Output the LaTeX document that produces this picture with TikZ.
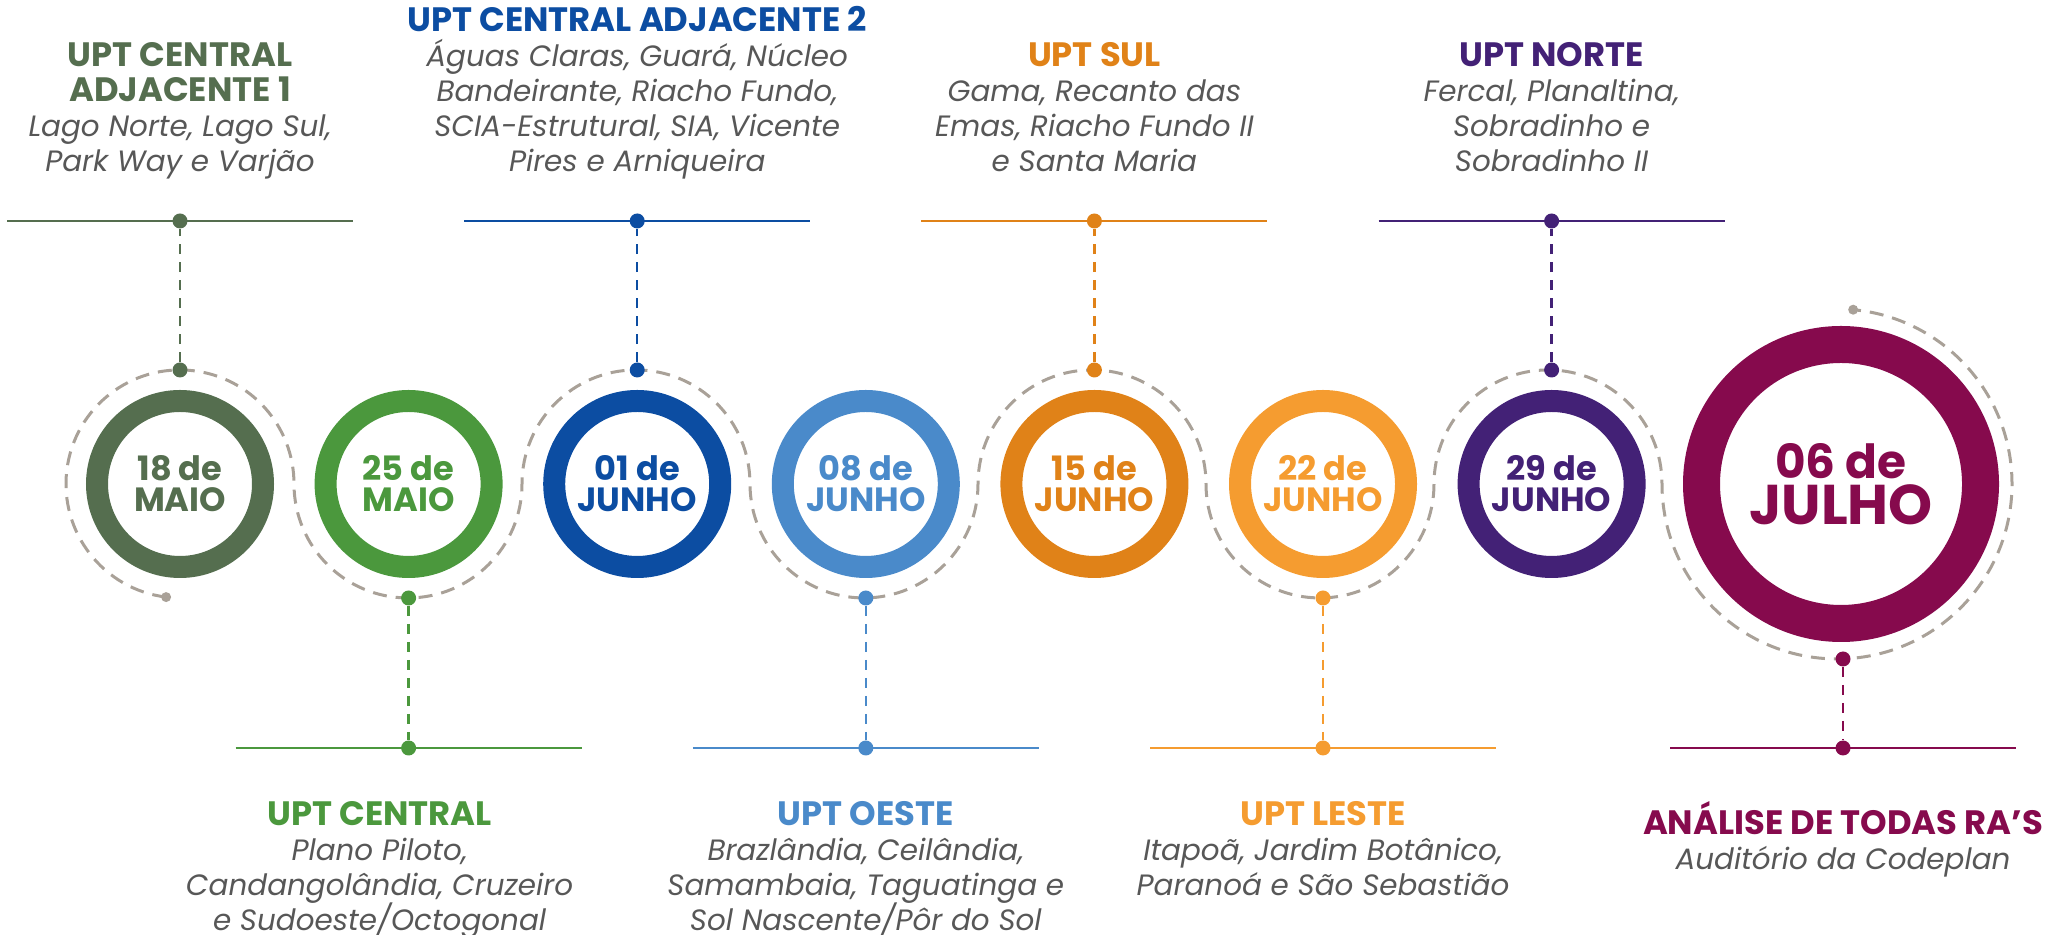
\documentclass[tikz,border=0pt]{standalone}
\usepackage{fontspec}
\setmainfont{Poppins}
\usepackage{xcolor}
\usetikzlibrary{positioning}
\definecolor{cA}{HTML}{556E4F}
\definecolor{cB}{HTML}{4B983D}
\definecolor{cC}{HTML}{0C4DA2}
\definecolor{cD}{HTML}{4A8ACA}
\definecolor{cE}{HTML}{E08218}
\definecolor{cF}{HTML}{F59C30}
\definecolor{cG}{HTML}{432176}
\definecolor{cH}{HTML}{860A4D}
\definecolor{trail}{HTML}{A9A198}
\definecolor{txtgray}{HTML}{575757}
\newcommand\upttitle{\fontsize{16.9}{17.5}\selectfont\bfseries\upshape}
\newcommand\uptlist{\fontsize{14.7}{17.5}\selectfont\itshape\lineskiplimit=-20pt}
\newcommand\upt[2]{{\upttitle\color{#1}#2\strut}}
\tikzset{
  ring/.style={circle, line width=11pt, minimum size=83pt, inner sep=0pt, align=center,
    font=\bfseries\fontsize{16.8}{15.5}\selectfont},
  bigring/.style={ring, line width=18.5pt, minimum size=139.5pt},
  dot/.style={circle, inner sep=0pt, minimum size=7.5pt},
  enddot/.style={circle, fill=trail, inner sep=0pt, minimum size=5pt},
  trailline/.style={draw=trail, line width=1.5pt, dash pattern=on 7pt off 4.5pt},
  bar/.style={line width=1.25pt},
  drop/.style={line width=1.25pt, dash pattern=on 5pt off 4pt},
  toplbl/.style={align=center, inner sep=0pt, font=\uptlist, text=txtgray},
  botlbl/.style={align=center, inner sep=0pt, font=\uptlist, text=txtgray},
}
\begin{document}
\begin{tikzpicture}[x=0.5pt, y=0.5pt]
  \useasboundingbox (0,0) rectangle (2064,935);
  % dashed trail weaving round the dates
  \node[enddot] (t0) at (166.1,337.9) {};
  \draw[trailline] (t0.center) arc[start angle=263, end angle=0, radius=114]
    arc[start angle=180, end angle=360, radius=114]
    arc[start angle=180, end angle=0, radius=114]
    arc[start angle=180, end angle=360, radius=114]
    arc[start angle=180, end angle=0, radius=114]
    arc[start angle=180, end angle=360, radius=114]
    arc[start angle=180, end angle=0, radius=114]
    arc[start angle=180, end angle=444.7, radius=175] coordinate (t1);
  \node[enddot] at (t1) {};
  % dates
  \foreach \i/\x/\col/\day/\mon in {1/180/cA/18/MAIO, 2/408.6/cB/25/MAIO, 3/637.2/cC/01/JUNHO,
      4/865.8/cD/08/JUNHO, 5/1094.4/cE/15/JUNHO, 6/1323/cF/22/JUNHO, 7/1551.6/cG/29/JUNHO}
    \node[ring, draw=\col, text=\col] (d\i) at (\x,451) {\day\ de\\\mon};
  \node[bigring, draw=cH, text=cH, font=\bfseries\fontsize{28}{23}\selectfont] (d8) at (1841,451)
    {{\fontsize{23.5}{23}\selectfont 06 de}\\JULHO};
  % stems and bars
  \foreach \i/\x/\col/\py/\qy in {1/180/cA/565/714, 2/408.6/cB/337/187, 3/637.2/cC/565/714,
      4/865.8/cD/337/187, 5/1094.4/cE/565/714, 6/1323/cF/337/187, 7/1551.6/cG/565/714, 8/1843/cH/276/187} {
    \node[dot, fill=\col] (p\i) at (\x,\py) {};
    \coordinate (q\i) at (\x,\qy);
    \draw[bar, \col] ([xshift=-86.5pt]q\i) -- ([xshift=86.5pt]q\i);
    \node[dot, fill=\col] (q\i) at (\x,\qy) {};
    \draw[drop, \col] (p\i) -- (q\i);
  }
  % labels above
  \node[toplbl, above=15.2pt of q1] (l1) {\upt{cA}{UPT CENTRAL}\\\upt{cA}{ADJACENTE 1}\\Lago Norte, Lago Sul,\\Park Way e Varjão\strut};
  \node[toplbl, above=15.2pt of q3] (l3) {\upt{cC}{UPT CENTRAL ADJACENTE 2}\\Águas Claras, Guará, Núcleo\\Bandeirante, Riacho Fundo,\\SCIA-Estrutural, SIA, Vicente\\Pires e Arniqueira\strut};
  \node[toplbl, above=15.2pt of q5] (l5) {\upt{cE}{UPT SUL}\\Gama, Recanto das\\Emas, Riacho Fundo II\\e Santa Maria\strut};
  \node[toplbl, above=15.2pt of q7] (l7) {\upt{cG}{UPT NORTE}\\Fercal, Planaltina,\\Sobradinho e\\Sobradinho II\strut};
  % labels below
  \node[botlbl, below=22.5pt of q2, xshift=-14.5pt] (l2) {\upt{cB}{UPT CENTRAL}\\Plano Piloto,\\Candangolândia, Cruzeiro\\e Sudoeste/Octogonal};
  \node[botlbl, below=22.5pt of q4] (l4) {\upt{cD}{UPT OESTE}\\Brazlândia, Ceilândia,\\Samambaia, Taguatinga e\\Sol Nascente/Pôr do Sol};
  \node[botlbl, below=22.5pt of q6] (l6) {\upt{cF}{UPT LESTE}\\Itapoã, Jardim Botânico,\\Paranoá e São Sebastião};
  \node[botlbl, below=22.5pt of q8] (l8) {\upt{cH}{ANÁLISE DE TODAS RA’S}\\Auditório da Codeplan};
\end{tikzpicture}
\end{document}
